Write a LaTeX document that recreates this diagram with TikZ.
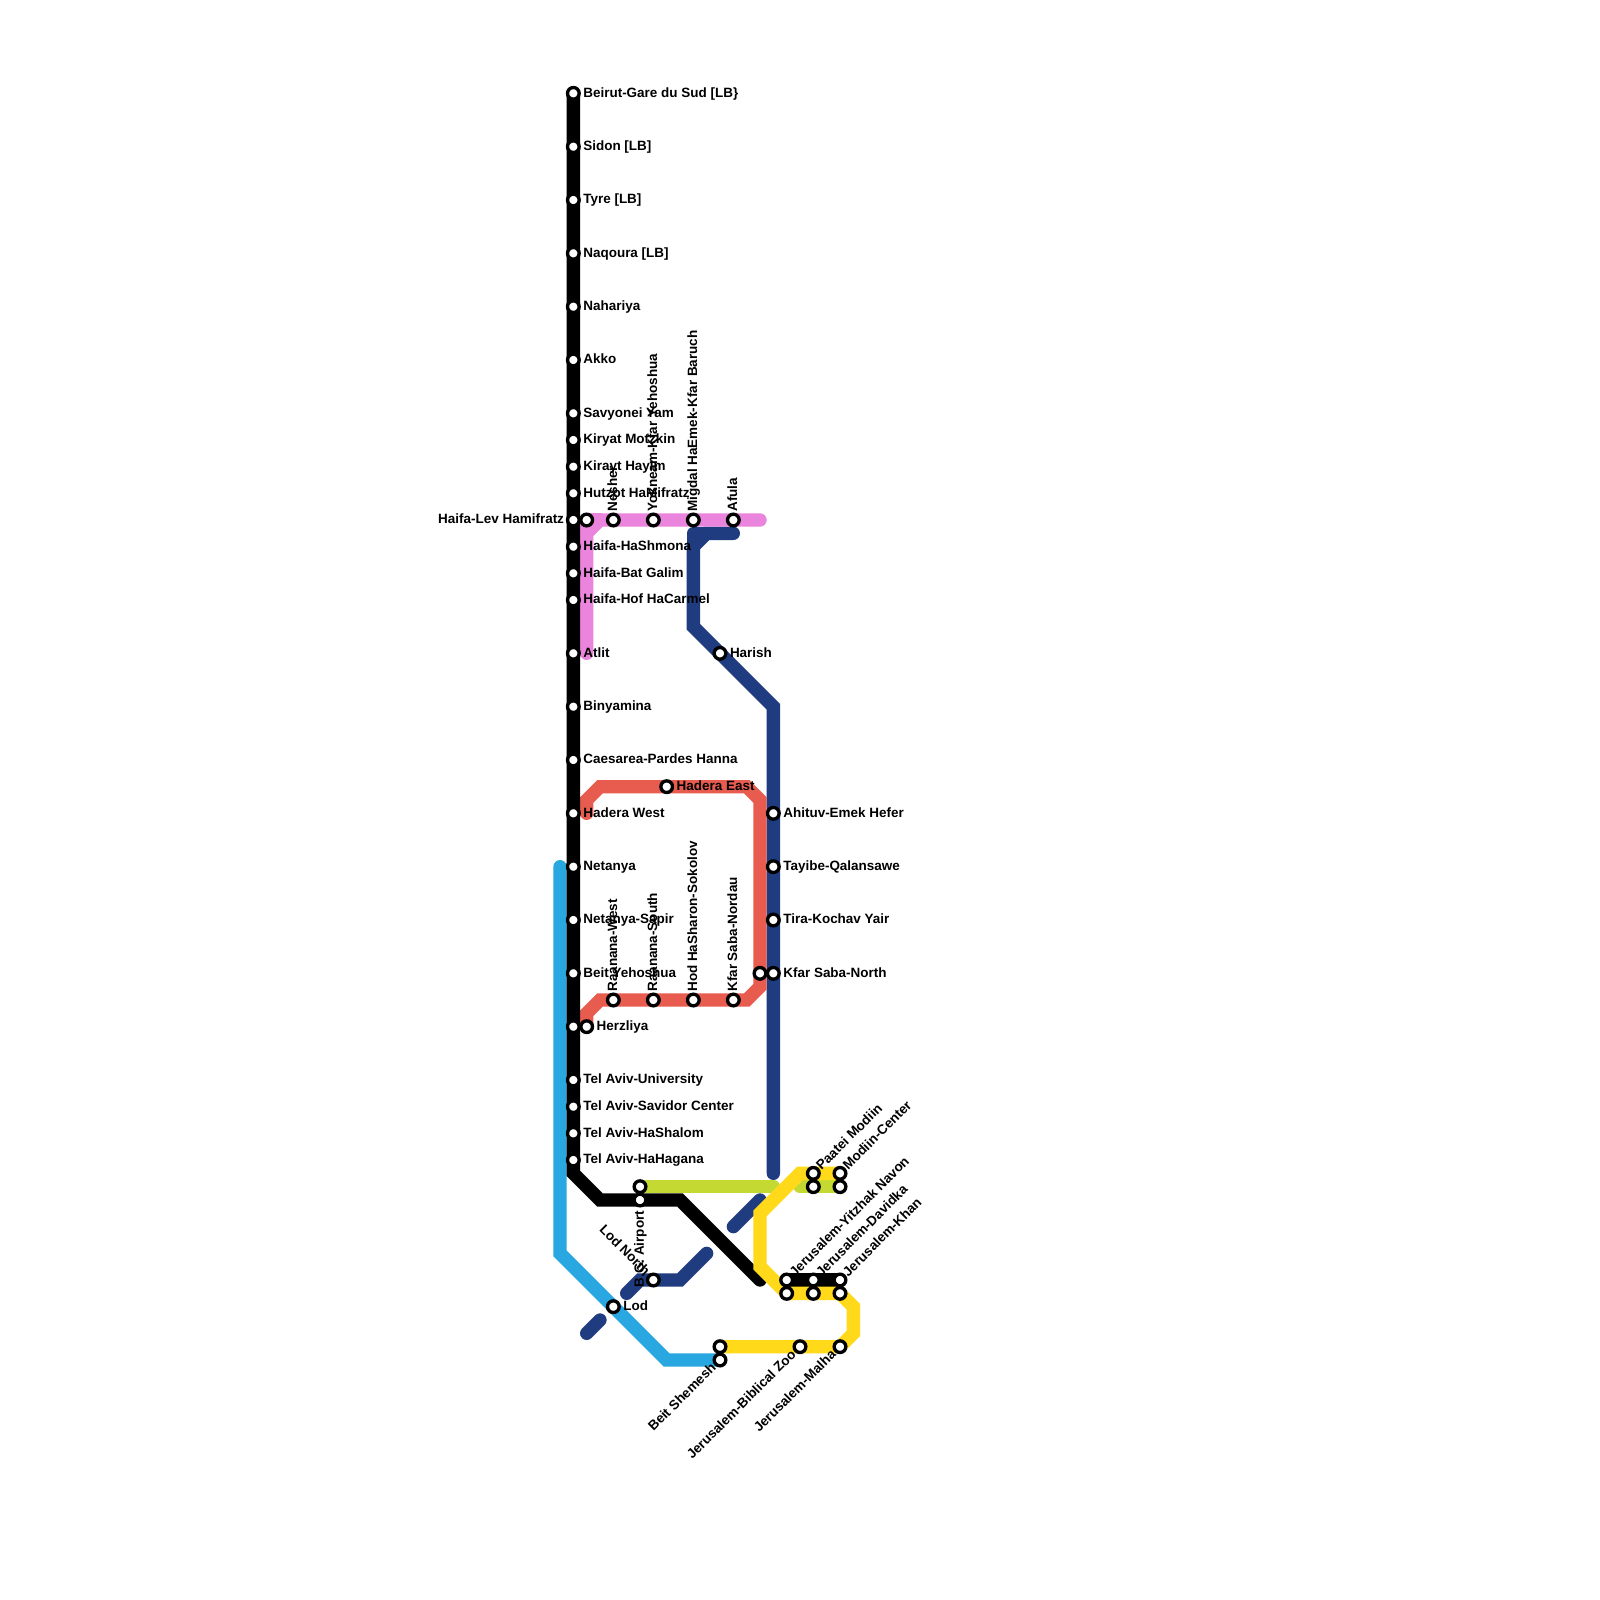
\documentclass[tikz,border=0pt]{standalone}
\usepackage{fontspec}
\setmainfont{Liberation Sans}
\usetikzlibrary{backgrounds}
\definecolor{cBlack}{HTML}{000000}
\definecolor{cNavy}{HTML}{1F3C81}
\definecolor{cCyan}{HTML}{29A7E1}
\definecolor{cOlive}{HTML}{C5D933}
\definecolor{cPink}{HTML}{EB84DC}
\definecolor{cRed}{HTML}{E85C50}
\definecolor{cYellow}{HTML}{FFD91A}
\tikzset{
  x=4mm,y=-4mm,
  stnnode/.style={circle,draw=black,fill=white,line width=1.0mm,minimum size=3.5mm,inner sep=0pt,outer sep=0pt},
  lbl/.style={font=\bfseries\fontsize{11.5pt}{12pt}\selectfont,inner sep=0pt,outer sep=0pt,text=black},
  lr/.style={xshift=3.0mm,yshift=-1.15mm,lbl,anchor=base west},
  ll/.style={xshift=-2.8mm,yshift=-1.15mm,lbl,anchor=base east},
  lv/.style={xshift=1.15mm,yshift=2.5mm,lbl,rotate=90,anchor=base west},
  lvd/.style={xshift=1.15mm,yshift=-3.3mm,lbl,rotate=90,anchor=base east},
  lu/.style={xshift=2.5mm,yshift=0.8mm,lbl,rotate=45,anchor=base west},
  lb/.style={xshift=-1.0mm,yshift=-2.65mm,lbl,rotate=45,anchor=base east},
  lnw/.style={xshift=-2.7mm,yshift=1.1mm,lbl,rotate=-45,anchor=base east},
  metro/.style={line width=4mm,line cap=round,line join=miter},
  metrord/.style={line width=4mm,line cap=round,line join=round},
}
\newcommand{\stn}[4]{\node[stnnode] (#1) at (#2) {}; \node[#3] (#1-t) at (#2) {#4};}
\newcommand{\bare}[2]{\node[stnnode] (#1) at (#2) {};}
\begin{document}
\begin{tikzpicture}
\useasboundingbox (0,0) rectangle (120,120);
% bends and free ends
\foreach \n/\p in {k1/{43,88},k2/{45,90},k3/{51,90},k4/{57,96},
  p1/{44,49},p2/{44,40},p3/{45,39},p4/{57,39},p5/{44,39},
  n1/{55,40},n2/{53,40},n3/{52,41},n4/{52,47},n5/{58,53},n6/{58,88},n7/{52,40},
  n8/{57,90},n9/{55,92},n10/{53,94},n11/{51,96},n12/{48,96},n13/{47,97},n14/{45,99},n15/{44,100},
  c1/{42,65},c2/{42,94},c3/{50,102},
  y1/{64,98},y2/{64,100},y3/{59,97},y4/{57,95},y5/{57,91},y6/{60,88},
  o1/{58,89},o2/{60,89},
  r1/{44,61},r2/{44,60},r3/{45,59},r4/{56,59},r5/{57,60},r6/{57,74},r7/{56,75},r8/{45,75},r9/{44,76}}
  {\coordinate (\n) at (\p);}
% stations
\stn{beirut}{43,7}{lr}{Beirut-Gare du Sud [LB\}}
\stn{sidon}{43,11}{lr}{Sidon [LB]}
\stn{tyre}{43,15}{lr}{Tyre [LB]}
\stn{naqoura}{43,19}{lr}{Naqoura [LB]}
\stn{nahariya}{43,23}{lr}{Nahariya}
\stn{akko}{43,27}{lr}{Akko}
\stn{savyonei}{43,31}{lr}{Savyonei Yam}
\stn{motzkin}{43,33}{lr}{Kiryat Motzkin}
\stn{hayim}{43,35}{lr}{Kirayt Hayim}
\stn{hutzot}{43,37}{lr}{Hutzot HaMifratz}
\stn{lev}{43,39}{ll}{Haifa-Lev Hamifratz}
\stn{shmona}{43,41}{lr}{Haifa-HaShmona}
\stn{galim}{43,43}{lr}{Haifa-Bat Galim}
\stn{carmel}{43,45}{lr}{Haifa-Hof HaCarmel}
\stn{atlit}{43,49}{lr}{Atlit}
\stn{binyamina}{43,53}{lr}{Binyamina}
\stn{caesarea}{43,57}{lr}{Caesarea-Pardes Hanna}
\stn{haderaw}{43,61}{lr}{Hadera West}
\stn{netanya}{43,65}{lr}{Netanya}
\stn{sapir}{43,69}{lr}{Netanya-Sapir}
\stn{yehoshua}{43,73}{lr}{Beit Yehoshua}
\bare{herz}{43,77}
\stn{univ}{43,81}{lr}{Tel Aviv-University}
\stn{savidor}{43,83}{lr}{Tel Aviv-Savidor Center}
\stn{shalom}{43,85}{lr}{Tel Aviv-HaShalom}
\stn{hagana}{43,87}{lr}{Tel Aviv-HaHagana}
\bare{levb}{44,39}
\stn{nesher}{46,39}{lv}{Nesher}
\stn{yokneam}{49,39}{lv}{Yokneam-Kfar Yehoshua}
\stn{migdal}{52,39}{lv}{Migdal HaEmek-Kfar Baruch}
\stn{afula}{55,39}{lv}{Afula}
\stn{harish}{54,49}{lr}{Harish}
\stn{haderae}{50,59}{lr}{Hadera East}
\stn{ahituv}{58,61}{lr}{Ahituv-Emek Hefer}
\stn{tayibe}{58,65}{lr}{Tayibe-Qalansawe}
\stn{tira}{58,69}{lr}{Tira-Kochav Yair}
\stn{kfarn}{58,73}{lr}{Kfar Saba-North}
\bare{kfarnb}{57,73}
\stn{rawest}{46,75}{lv}{Raanana-West}
\stn{rasouth}{49,75}{lv}{Raanana-South}
\stn{hod}{52,75}{lv}{Hod HaSharon-Sokolov}
\stn{nordau}{55,75}{lv}{Kfar Saba-Nordau}
\stn{herzb}{44,77}{lr}{Herzliya}
\bare{bga}{48,89}
\stn{bgb}{48,90}{lvd}{B.G. Airport}
\stn{lodn}{49,96}{lnw}{Lod North}
\stn{lod}{46,98}{lr}{Lod}
\stn{shemesha}{54,102}{lb}{Beit Shemesh}
\bare{shemeshb}{54,101}
\stn{zoo}{60,101}{lb}{Jerusalem-Biblical Zoo}
\stn{malha}{63,101}{lb}{Jerusalem-Malha}
\stn{paatei}{61,88}{lu}{Paatei Modiin}
\stn{modiin}{63,88}{lu}{Modiin-Center}
\bare{paateib}{61,89}
\bare{modiinb}{63,89}
\stn{navon}{59,96}{lu}{Jerusalem-Yitzhak Navon}
\stn{davidka}{61,96}{lu}{Jerusalem-Davidka}
\stn{khan}{63,96}{lu}{Jerusalem-Khan}
\bare{navonb}{59,97}
\bare{davidkab}{61,97}
\bare{khanb}{63,97}
% lines
\begin{scope}[on background layer]
\fill[white] (0,0) rectangle (120,120);
\draw[metro,cCyan] (c1) -- (c2) -- (c3) -- (shemesha.center);
\draw[metro,cNavy] (n1) -- (n2) -- (n3) -- (n4) -- (n5) -- (n6);
\draw[metrord,cNavy] (n3) -- (n7) -- (n2);
\draw[metro,cNavy] (n8) -- (n9);
\draw[metro,cNavy] (n10) -- (n11) -- (n12) -- (n13);
\draw[metro,cNavy] (n14) -- (n15);
\draw[metro,cOlive] (bga.center) -- (o1);
\draw[metro,cOlive] (o2) -- (modiinb.center);
\draw[metro,cPink] (p1) -- (p2) -- (p3) -- (p4);
\draw[metrord,cPink] (p2) -- (p5) -- (p3);
\draw[metro,cRed] (r1) -- (r2) -- (r3) -- (r4) -- (r5) -- (r6) -- (r7) -- (r8) -- (r9) -- (herzb.center);
\draw[metro,cBlack] (beirut.center) -- (k1) -- (k2) -- (k3) -- (k4);
\draw[metro,cBlack] (navon.center) -- (khan.center);
\draw[metro,cYellow] (modiin.center) -- (y6) -- (y5) -- (y4) -- (y3) -- (khanb.center) -- (y1) -- (y2) -- (malha.center) -- (shemeshb.center);
\end{scope}
\end{tikzpicture}
\end{document}
